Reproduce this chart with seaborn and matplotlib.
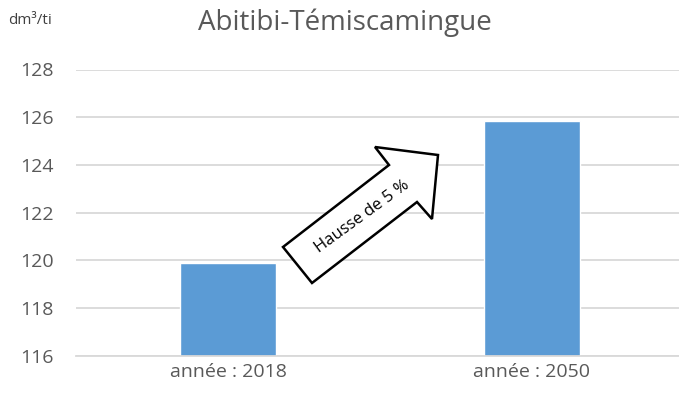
import matplotlib
matplotlib.use("Agg")
import matplotlib.pyplot as plt
import seaborn as sns
import pandas as pd
from matplotlib.patches import Polygon
from matplotlib.transforms import IdentityTransform

categories = ["année : 2018", "année : 2050"]
values = [119.87, 125.85]
y_ticks = [116, 118, 120, 122, 124, 126, 128]

BAR_BLUE = "#5B9BD5"
GRID_GREY = "#D9D9D9"
TEXT_GREY = "#595959"

sns.set_theme(style="white")
plt.rcParams["font.family"] = ["Open Sans", "DejaVu Sans"]

df = pd.DataFrame({"annee": categories, "valeur": values})

fig = plt.figure(figsize=(6.79, 4.0), dpi=100)
ax = fig.add_axes([76 / 679, 44.3 / 400, 603 / 679, 286.2 / 400])

sns.barplot(data=df, x="annee", y="valeur", color=BAR_BLUE,
            width=0.316, saturation=1, ax=ax)

ax.set_ylim(116, 128)
ax.set_xlim(-0.5, 1.484)
ax.set_yticks(y_ticks)
ax.yaxis.grid(True, color=GRID_GREY, linewidth=1.3)
ax.set_axisbelow(True)
for s in ["top", "right", "left"]:
    ax.spines[s].set_visible(False)
ax.spines["bottom"].set_color(GRID_GREY)
ax.spines["bottom"].set_linewidth(1.3)
ax.set_xlabel("")
ax.set_ylabel("")
ax.tick_params(axis="y", length=0, pad=16, labelsize=14, labelcolor=TEXT_GREY)
ax.tick_params(axis="x", length=0, pad=5, labelsize=14, labelcolor=TEXT_GREY)

fig.text(198 / 679, 1 - 23 / 400, "Abitibi-Témiscamingue", fontsize=20,
         color=TEXT_GREY, ha="left", va="center")
fig.text(8 / 679, 1 - 20 / 400, "dm³/ti", fontsize=11,
         color="#404040", ha="left", va="center")

# flèche "Hausse de 5 %" (coordonnées en pixels, origine en haut à gauche)
arrow_px = [(283, 247), (312, 283), (417, 202), (432, 219),
            (438, 155), (375, 147), (389, 165)]
arrow_disp = [(x, 400 - y) for x, y in arrow_px]
fig.patches.append(Polygon(arrow_disp, closed=True, facecolor="white",
                           edgecolor="black", linewidth=1.8,
                           transform=IdentityTransform(), figure=fig))
fig.text(362 / 679, 1 - 217 / 400, "Hausse de 5 %", rotation=36,
         rotation_mode="anchor", fontsize=12, color="black",
         ha="center", va="center")

fig.savefig("out.png", dpi=100)
